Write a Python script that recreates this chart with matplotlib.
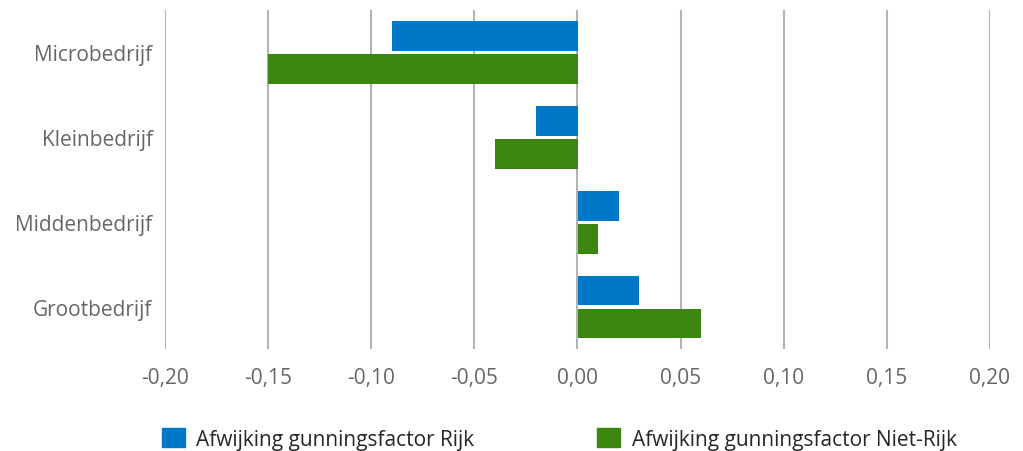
import numpy as np
import matplotlib.pyplot as plt
from matplotlib.patches import Patch

plt.rcParams['font.family'] = ['Open Sans', 'DejaVu Sans']

categories = ['Microbedrijf', 'Kleinbedrijf', 'Middenbedrijf', 'Grootbedrijf']
rijk = [-0.09, -0.02, 0.02, 0.03]
niet_rijk = [-0.15, -0.04, 0.01, 0.06]
series_names = ['Afwijking gunningsfactor Rijk', 'Afwijking gunningsfactor Niet-Rijk']
blue = '#0078c8'
green = '#3a860e'
ticks = np.arange(-0.20, 0.201, 0.05)

fig = plt.figure(figsize=(10.23, 4.52), dpi=100)
ax = fig.add_axes([165 / 1023, 1 - 350 / 452, 825 / 1023, 339 / 452])

y = np.arange(len(categories))
h = 0.35
ax.barh(y - 0.19, rijk, height=h, color=blue, zorder=3)
ax.barh(y + 0.2, niet_rijk, height=h, color=green, zorder=3)

ax.set_xlim(-0.20, 0.20)
ax.set_ylim(3.5, -0.5)
ax.set_xticks(ticks)
ax.set_xticklabels([f'{t:.2f}'.replace('.', ',').replace('-0,00', '0,00') for t in ticks])
ax.set_yticks(y)
ax.set_yticklabels(categories)
ax.tick_params(length=0, labelsize=15, colors='#666666')
ax.tick_params(axis='x', pad=13)
ax.tick_params(axis='y', pad=9)
ax.grid(axis='x', color='#b3b3b3', linewidth=1.5, zorder=0)
for s in ax.spines.values():
    s.set_visible(False)

handles = [Patch(color=blue), Patch(color=green)]
leg = fig.legend(handles, series_names, loc='center left', bbox_to_anchor=(143 / 1023, 1 - 440 / 452),
                 ncol=2, frameon=False, fontsize=15, handlelength=1.1, handleheight=1.05,
                 handletextpad=0.55, columnspacing=5.9)
for t in leg.get_texts():
    t.set_color('#262626')

fig.savefig('out.png', dpi=100)
